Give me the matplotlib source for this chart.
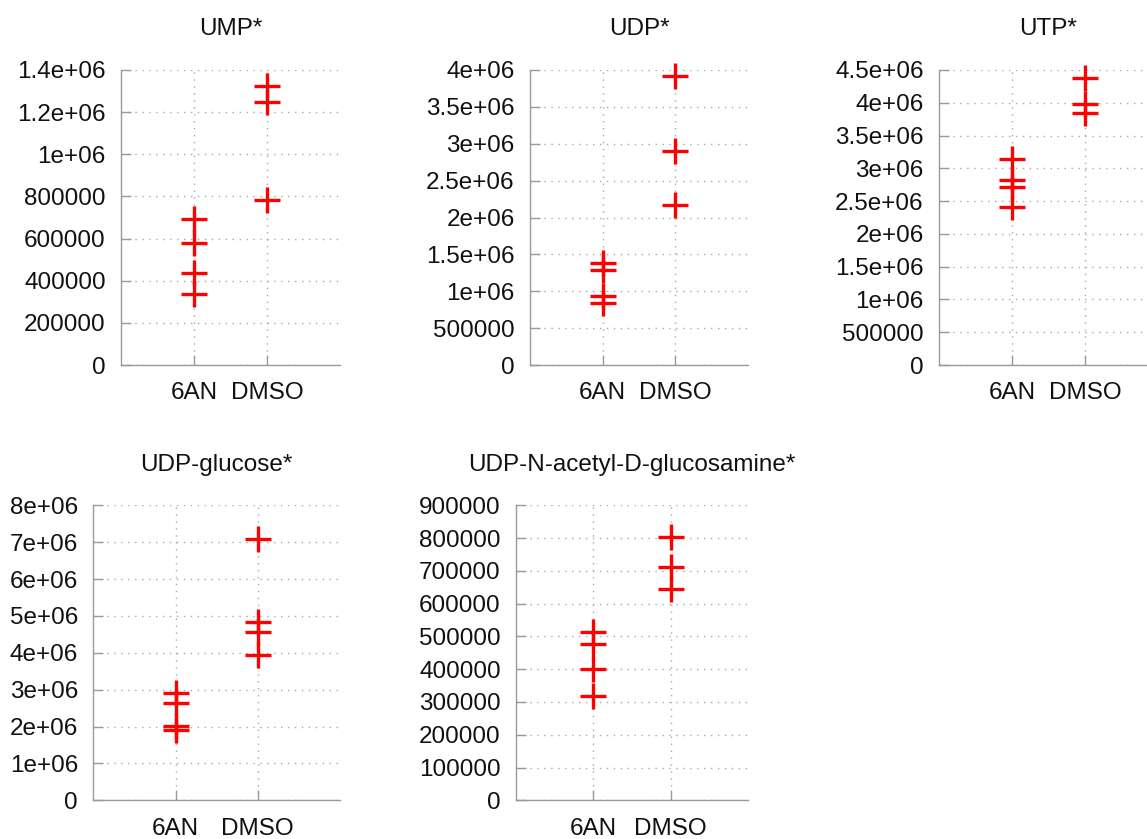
import matplotlib
matplotlib.use("Agg")
import matplotlib.pyplot as plt
from matplotlib.ticker import MultipleLocator, FuncFormatter

plt.rcParams['font.family'] = ['Liberation Sans', 'DejaVu Sans']

groups = ["6AN", "DMSO"]

titles = ["UMP*", "UDP*", "UTP*", "UDP-glucose*", "UDP-N-acetyl-D-glucosamine*"]

ump_6an = [691000, 578000, 435000, 337000]
ump_dmso = [1324000, 1250000, 781000]

udp_6an = [1388000, 1293000, 931000, 841000]
udp_dmso = [3914000, 2906000, 2174000]

utp_6an = [3137000, 2827000, 2710000, 2415000]
utp_dmso = [4378000, 3981000, 3849000]

udpglc_6an = [2920000, 2640000, 2016000, 1908000]
udpglc_dmso = [7090000, 4837000, 4566000, 3933000]

udpglcnac_6an = [514000, 476000, 400000, 318000]
udpglcnac_dmso = [802000, 713000, 644000]

y_max = [1400000, 4000000, 4500000, 8000000, 900000]
y_step = [200000, 500000, 500000, 1000000, 100000]

series = [
    (ump_6an, ump_dmso),
    (udp_6an, udp_dmso),
    (utp_6an, utp_dmso),
    (udpglc_6an, udpglc_dmso),
    (udpglcnac_6an, udpglcnac_dmso),
]

W, H = 1147, 839
fig = plt.figure(figsize=(W / 100, H / 100), dpi=100)

# panel boxes in pixels: left, right, top, bottom
boxes = [
    (121, 340, 70, 365),
    (530, 748, 70, 365),
    (939, 1158, 70, 365),
    (93.3, 340, 505.3, 800.3),
    (516, 748, 505.3, 800.3),
]

axis_grey = "#9a9a9a"
grid_grey = "#a8a8a8"
fs = 17.5

for (l, r, t, b), title, (a, d), ymax, ystep in zip(boxes, titles, series, y_max, y_step):
    ax = fig.add_axes([l / W, (H - b) / H, (r - l) / W, (b - t) / H])
    ax.plot([1] * len(a), a, linestyle="none", marker="+", markersize=18.5,
            markeredgewidth=2.4, color="#ff0000", clip_on=False, zorder=3)
    ax.plot([2] * len(d), d, linestyle="none", marker="+", markersize=18.5,
            markeredgewidth=2.4, color="#ff0000", clip_on=False, zorder=3)
    ax.set_xlim(0, 3)
    ax.set_ylim(0, ymax)
    ax.set_xticks([1, 2])
    ax.set_xticklabels(groups)
    ax.yaxis.set_major_locator(MultipleLocator(ystep))
    ax.yaxis.set_major_formatter(FuncFormatter(lambda v, p: f"{v:g}"))
    ax.grid(True, color=grid_grey, linestyle=(0, (1, 4)), linewidth=1.0, zorder=0)
    ax.set_axisbelow(True)
    for s in ("top", "right"):
        ax.spines[s].set_visible(False)
    for s in ("left", "bottom"):
        ax.spines[s].set_color(axis_grey)
        ax.spines[s].set_linewidth(1.0)
    ax.tick_params(axis="y", direction="in", length=7, width=1, color=axis_grey,
                   labelsize=fs, pad=11, labelcolor="#111111")
    ax.tick_params(axis="x", direction="in", length=7, width=1, color=axis_grey,
                   labelsize=fs, pad=12.5, labelcolor="#111111")
    ax.set_title(title, fontsize=fs, pad=25, color="#111111")

fig.savefig("out.png", dpi=100)
